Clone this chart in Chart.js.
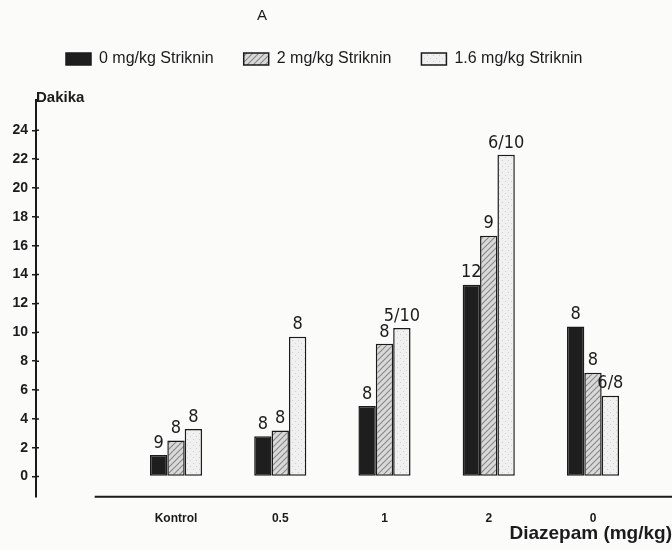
<!DOCTYPE html>
<html>
<head>
<meta charset="utf-8">
<script src="https://cdn.jsdelivr.net/npm/chart.js@4"></script>
<style>
  html, body { margin: 0; padding: 0; background: #fbfbfa; }
</style>
</head>
<body>
<canvas id="myChart" width="672" height="550"></canvas>
<script>
// data (minutes), n per bar on top
var groups = ['Kontrol', '0.5', '1', '2', '0'];
var groupPos = [1, 2, 3, 4, 5];
var seriesNames = ['0 mg/kg Striknin', '2 mg/kg Striknin', '1.6 mg/kg Striknin'];
var strk0 = [1.5, 2.8, 4.9, 13.3, 10.4];
var strk2 = [2.5, 3.2, 9.2, 16.7, 7.2];
var strk16 = [3.3, 9.7, 10.3, 22.3, 5.6];
var n0 = ['9', '8', '8', '12', '8'];
var n2 = ['8', '8', '8', '9', '8'];
var n16 = ['8', '8', '5/10', '6/10', '6/8'];
var yTicks = [0, 2, 4, 6, 8, 10, 12, 14, 16, 18, 20, 22, 24];

var ink = '#1b1b1b';
Chart.defaults.font.family = "'Liberation Sans', Arial, sans-serif";
Chart.defaults.color = ink;

function makePattern(bg, draw) {
  var c = document.createElement('canvas');
  c.width = 6; c.height = 6;
  var g = c.getContext('2d');
  g.fillStyle = bg;
  g.fillRect(0, 0, 6, 6);
  draw(g);
  return g.createPattern(c, 'repeat');
}
var hatch = makePattern('#d9d9d9', function (g) {
  g.strokeStyle = '#8a8a8a';
  g.lineWidth = 1.2;
  g.beginPath();
  g.moveTo(0, 6); g.lineTo(6, 0);
  g.moveTo(-3, 3); g.lineTo(3, -3);
  g.moveTo(3, 9); g.lineTo(9, 3);
  g.stroke();
});
var dots = makePattern('#f0f0f0', function (g) {
  g.fillStyle = '#cfcfcf';
  g.fillRect(1, 1, 1, 1);
  g.fillRect(4, 4, 1, 1);
});

function pts(vals) {
  return vals.map(function (v, i) { return { x: groupPos[i], y: v }; });
}
var nLabels = [n0, n2, n16];

var extras = {
  id: 'extras',
  afterDatasetsDraw: function (chart) {
    var ctx = chart.ctx;
    ctx.save();
    ctx.fillStyle = ink;
    ctx.font = "18px 'Liberation Sans Narrow', 'DejaVu Sans Condensed', sans-serif";
    ctx.textAlign = 'center';
    ctx.textBaseline = 'bottom';
    chart.data.datasets.forEach(function (ds, d) {
      chart.getDatasetMeta(d).data.forEach(function (el, i) {
        ctx.fillText(nLabels[d][i], el.x, el.y - 3);
      });
    });
    ctx.restore();
  },
  afterDraw: function (chart) {
    var ctx = chart.ctx, area = chart.chartArea, ys = chart.scales.y, xs = chart.scales.x;
    ctx.save();
    ctx.fillStyle = ink;
    ctx.font = "15px 'Liberation Sans', sans-serif";
    ctx.textAlign = 'center';
    ctx.textBaseline = 'middle';
    ctx.fillText('A', 262, 16);
    // baseline rule under the groups
    ctx.strokeStyle = ink;
    ctx.lineWidth = 2;
    ctx.beginPath();
    ctx.moveTo(xs.getPixelForValue(0.22), area.bottom);
    ctx.lineTo(chart.width, area.bottom);
    ctx.stroke();
    // tick marks crossing the y axis
    ctx.lineWidth = 1.5;
    ctx.beginPath();
    yTicks.forEach(function (v) {
      var py = ys.getPixelForValue(v);
      ctx.moveTo(area.left, py);
      ctx.lineTo(area.left + 3, py);
    });
    ctx.stroke();
    ctx.restore();
  }
};

new Chart('myChart', {
  type: 'bar',
  data: {
    datasets: [
      { label: seriesNames[0], data: pts(strk0), backgroundColor: '#1e1e1e' },
      { label: seriesNames[1], data: pts(strk2), backgroundColor: hatch },
      { label: seriesNames[2], data: pts(strk16), backgroundColor: dots }
    ]
  },
  options: {
    responsive: false,
    animation: false,
    layout: { padding: { top: 21, right: 0, bottom: 1, left: 0 } },
    datasets: {
      bar: {
        borderColor: ink,
        borderWidth: 1.5,
        borderSkipped: false,
        categoryPercentage: 0.5,
        barPercentage: 1
      }
    },
    plugins: {
      tooltip: { enabled: false },
      legend: {
        position: 'top',
        align: 'start',
        fullSize: false,
        labels: {
          boxWidth: 25,
          boxHeight: 12,
          padding: 30,
          font: { size: 16 }
        }
      },
      subtitle: {
        display: true,
        text: 'Dakika',
        align: 'start',
        fullSize: false,
        weight: 500,
        color: ink,
        font: { size: 15, weight: 'bold' },
        padding: { top: 12, bottom: -7 }
      }
    },
    scales: {
      x: {
        type: 'linear',
        offset: false,
        min: -0.343,
        max: 5.758,
        afterBuildTicks: function (s) {
          s.ticks = groupPos.map(function (v) { return { value: v }; });
        },
        ticks: {
          padding: 15,
          autoSkip: false,
          maxRotation: 0,
          font: { size: 12, weight: 'bold' },
          callback: function (v, i) { return groups[i]; }
        },
        grid: { display: false, drawTicks: false },
        border: { display: false },
        title: {
          display: true,
          text: 'Diazepam (mg/kg)',
          align: 'end',
          font: { size: 19, weight: 'bold' },
          padding: { top: -19, bottom: 4 }
        }
      },
      y: {
        min: -1.4,
        max: 26.1,
        afterBuildTicks: function (s) {
          s.ticks = yTicks.map(function (v) { return { value: v }; });
        },
        afterFit: function (s) { s.width = 36; },
        ticks: {
          padding: 4,
          font: { size: 14, weight: 'bold' }
        },
        grid: { drawOnChartArea: false, tickLength: 4, color: ink, lineWidth: 1.5 },
        border: { display: true, color: ink, width: 2 }
      }
    }
  },
  plugins: [extras]
});
</script>
</body>
</html>
